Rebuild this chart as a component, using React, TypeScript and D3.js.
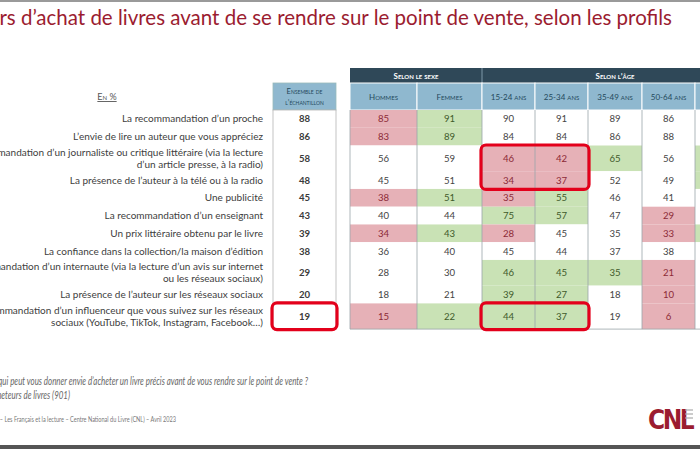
import React from 'react';
import * as d3 from 'd3';

// ---- data ----
const title = 'Les déclencheurs d’achat de livres avant de se rendre sur le point de vente, selon les profils';
const unitLabel = 'En %';

const rowLabels: string[][] = [
  ['La recommandation d’un proche'],
  ['L’envie de lire un auteur que vous appréciez'],
  ['La recommandation d’un journaliste ou critique littéraire (via la lecture', 'd’un article presse, à la radio)'],
  ['La présence de l’auteur à la télé ou à la radio'],
  ['Une publicité'],
  ['La recommandation d’un enseignant'],
  ['Un prix littéraire obtenu par le livre'],
  ['La confiance dans la collection/la maison d’édition'],
  ['La recommandation d’un internaute (via la lecture d’un avis sur internet', 'ou les réseaux sociaux)'],
  ['La présence de l’auteur sur les réseaux sociaux'],
  ['La recommandation d’un influenceur que vous suivez sur les réseaux', 'sociaux (YouTube, TikTok, Instagram, Facebook…)'],
];

const ensembleHeader = ['Ensemble de', 'l’échantillon'];
const ensemble = [88, 86, 58, 48, 45, 43, 39, 38, 29, 20, 19];

const groups = [
  { label: 'Selon le sexe', span: 2 },
  { label: 'Selon l’âge', span: 5 },
];
const columns = ['Hommes', 'Femmes', '15-24 ans', '25-34 ans', '35-49 ans', '50-64 ans', '65 ans et +'];

const hommes = [85, 83, 56, 45, 38, 40, 34, 36, 28, 18, 15];
const femmes = [91, 89, 59, 51, 51, 44, 43, 40, 30, 21, 22];
const age1524 = [90, 84, 46, 34, 35, 75, 28, 45, 46, 39, 44];
const age2534 = [91, 84, 42, 37, 55, 57, 45, 44, 45, 27, 37];
const age3549 = [89, 86, 65, 52, 46, 47, 35, 37, 35, 18, 19];
const age5064 = [86, 88, 56, 49, 41, 29, 33, 38, 21, 10, 6];
const age65 = [87, 86, 66, 57, 47, 40, 47, 36, 22, 14, 9]; // column cut off in the picture

// "+" significantly higher (green), "-" significantly lower (pink)
const sigHommes = ['-', '-', '', '', '-', '', '-', '', '', '', '-'];
const sigFemmes = ['+', '+', '', '', '+', '', '+', '', '', '', '+'];
const sig1524 = ['', '', '-', '-', '-', '+', '-', '', '+', '+', '+'];
const sig2534 = ['', '', '-', '-', '+', '+', '', '', '+', '+', '+'];
const sig3549 = ['', '', '+', '', '', '', '', '', '+', '', ''];
const sig5064 = ['', '', '', '', '', '-', '-', '', '-', '-', '-'];
const sig65 = ['', '', '+', '+', '', '', '+', '', '', '', ''];

const values = [hommes, femmes, age1524, age2534, age3549, age5064, age65];
const signs = [sigHommes, sigFemmes, sig1524, sig2534, sig3549, sig5064, sig65];

// red frames: [first column, last column, first row, last row]; column -1 = ensemble
const highlights = [
  [2, 3, 2, 3],
  [2, 3, 10, 10],
  [-1, -1, 10, 10],
];

const footnotes = [
  'Question : Qu’est-ce qui peut vous donner envie d’acheter un livre précis avant de vous rendre sur le point de vente ?',
  'Base : acheteurs de livres (901)',
];
const source = 'Source : Ipsos – Les Français et la lecture – Centre National du Livre (CNL) – Avril 2023';

// ---- layout ----
const W = 700;
const H = 450;
const font = 'Lato, "Open Sans", sans-serif';
const labelRight = 263;
const ensX0 = 273;
const ensX1 = 336;
const tableX0 = 350;
const colWidths = [67, 65, 53, 53, 54, 53, 53];
const groupTop = 68;
const subTop = 83;
const bodyTop = 110;
const singleH = 17.75;
const doubleH = 25.7;

const PINK = '#e6b1b7';
const GREEN = '#c9e2b5';
const DARK = '#2f4858';
const LIGHTBLUE = '#8fb8cf';

export default function App() {
  const heights = rowLabels.map((l) => (l.length > 1 ? doubleH : singleH));
  const rowTops = [0, ...d3.cumsum(heights)].map((v) => bodyTop + v);
  const bodyBottom = rowTops[rowTops.length - 1];
  const colEdges = [0, ...d3.cumsum(colWidths)].map((v) => tableX0 + v);
  const rowMid = (i: number) => (rowTops[i] + rowTops[i + 1]) / 2;

  const fillFor = (s: string) => (s === '+' ? GREEN : s === '-' ? PINK : '#fff');
  const textFor = (s: string) => (s === '+' ? '#3f5a2a' : s === '-' ? '#8c2a36' : '#444');

  let gStart = 0;
  const groupSpans = groups.map((g) => {
    const x0 = colEdges[gStart];
    const x1 = colEdges[Math.min(gStart + g.span, colWidths.length)];
    gStart += g.span;
    return { ...g, x0, x1 };
  });

  return (
    <svg
      width={W}
      height={H}
      style={{ position: 'absolute', left: 0, top: 0, background: '#fff' }}
      fontFamily={font}
    >
      <rect width={W} height={H} fill="#fff" />
      <line x1={0} x2={W} y1={1} y2={1} stroke="#9a9a9a" strokeWidth={2} />

      <text x={672} y={25} textAnchor="end" fontSize={20.5} fill="#9b1c30">
        {title}
      </text>

      <text
        x={107}
        y={100}
        textAnchor="middle"
        fontSize={9}
        fill="#555"
        textDecoration="underline"
        style={{ fontVariant: 'small-caps' }}
      >
        {unitLabel}
      </text>

      {/* row labels */}
      {rowLabels.map((lines, i) => (
        <text key={i} textAnchor="end" fontSize={10} fill="#404040">
          {lines.map((l, j) => (
            <tspan key={j} x={labelRight} y={rowMid(i) + 3.5 + (j - (lines.length - 1) / 2) * 12}>
              {l}
            </tspan>
          ))}
        </text>
      ))}

      {/* ensemble column */}
      <rect x={ensX0} y={subTop} width={ensX1 - ensX0} height={bodyTop - subTop} fill={LIGHTBLUE} stroke="#9bb" strokeWidth={0.8} />
      {ensembleHeader.map((t, j) => (
        <text
          key={j}
          x={(ensX0 + ensX1) / 2}
          y={subTop + 11 + j * 11}
          textAnchor="middle"
          fontSize={7.6}
          fill="#24495c"
          style={{ fontVariant: 'small-caps' }}
        >
          {t}
        </text>
      ))}
      <rect x={ensX0} y={bodyTop} width={ensX1 - ensX0} height={bodyBottom - bodyTop} fill="#fff" stroke="#b5b5b5" strokeWidth={0.8} />
      {ensemble.map((v, i) => (
        <text key={i} x={(ensX0 + ensX1) / 2} y={rowMid(i) + 3.5} textAnchor="middle" fontSize={9.6} fontWeight="bold" fill="#3a3a3a">
          {v}
        </text>
      ))}

      {/* group header band */}
      <rect x={tableX0} y={groupTop} width={W - tableX0} height={subTop - groupTop} fill={DARK} />
      {groupSpans.map((g, i) => (
        <g key={i}>
          {i > 0 && <line x1={g.x0} x2={g.x0} y1={groupTop} y2={subTop} stroke="#7f98a8" strokeWidth={1} />}
          <text
            x={(g.x0 + g.x1) / 2}
            y={groupTop + 10.5}
            textAnchor="middle"
            fontSize={8}
            fontWeight="bold"
            fill="#fff"
            style={{ fontVariant: 'small-caps' }}
          >
            {g.label}
          </text>
        </g>
      ))}

      {/* sub header */}
      {columns.map((c, k) => (
        <g key={c}>
          <rect x={colEdges[k]} y={subTop} width={colWidths[k]} height={bodyTop - subTop} fill={LIGHTBLUE} stroke="#fff" strokeWidth={1} />
          <text
            x={(colEdges[k] + colEdges[k + 1]) / 2}
            y={(subTop + bodyTop) / 2 + 3}
            textAnchor="middle"
            fontSize={8}
            fill="#24495c"
            style={{ fontVariant: 'small-caps' }}
          >
            {c}
          </text>
        </g>
      ))}

      {/* body cells */}
      {values.map((col, k) =>
        col.map((v, i) => (
          <g key={`${k}-${i}`}>
            <rect x={colEdges[k]} y={rowTops[i]} width={colWidths[k]} height={heights[i]} fill={fillFor(signs[k][i])} />
            <text
              x={(colEdges[k] + colEdges[k + 1]) / 2}
              y={rowMid(i) + 3.5}
              textAnchor="middle"
              fontSize={9.6}
              fill={textFor(signs[k][i])}
            >
              {v}
            </text>
          </g>
        ))
      )}
      {colEdges.map((x, k) => (
        <line key={k} x1={x} x2={x} y1={bodyTop} y2={bodyBottom} stroke="#9aa4aa" strokeWidth={0.8} />
      ))}
      <line x1={tableX0} x2={W} y1={bodyBottom} y2={bodyBottom} stroke="#9aa4aa" strokeWidth={0.8} />

      {/* red frames */}
      {highlights.map(([c0, c1, r0, r1], i) => {
        const x0 = c0 < 0 ? ensX0 : colEdges[c0];
        const x1 = c1 < 0 ? ensX1 : colEdges[c1 + 1];
        return (
          <rect
            key={i}
            x={x0 - 1}
            y={rowTops[r0] - 0.5}
            width={x1 - x0 + 2}
            height={rowTops[r1 + 1] - rowTops[r0] + 1}
            rx={5}
            fill="none"
            stroke="#e3001b"
            strokeWidth={3.2}
          />
        );
      })}

      {/* footnotes (narrow italic face, squeezed horizontally) */}
      {footnotes.map((t, j) => (
        <text
          key={j}
          transform={`translate(${j === 0 ? 308 : 70},${385 + j * 14}) scale(0.755,1)`}
          textAnchor="end"
          fontSize={10.5}
          fontStyle="italic"
          fill="#666"
        >
          {t}
        </text>
      ))}
      <text transform="translate(176,422) scale(0.845,1)" textAnchor="end" fontSize={6.6} fill="#777">
        {source}
      </text>

      {/* logo */}
      <text
        x={648}
        y={429}
        fontSize={26}
        fontWeight="bold"
        fill="#9b1c30"
        fontFamily='"DejaVu Sans Condensed", "Liberation Sans", sans-serif'
        letterSpacing={-2.5}
      >
        CNL
      </text>
      {[0, 1, 2].map((j) => (
        <line key={j} x1={685} x2={693} y1={410 + j * 4} y2={410 + j * 4} stroke="#aaa" strokeWidth={1.2} />
      ))}

      <line x1={0} x2={W} y1={447} y2={447} stroke="#555" strokeWidth={4} />
    </svg>
  );
}
